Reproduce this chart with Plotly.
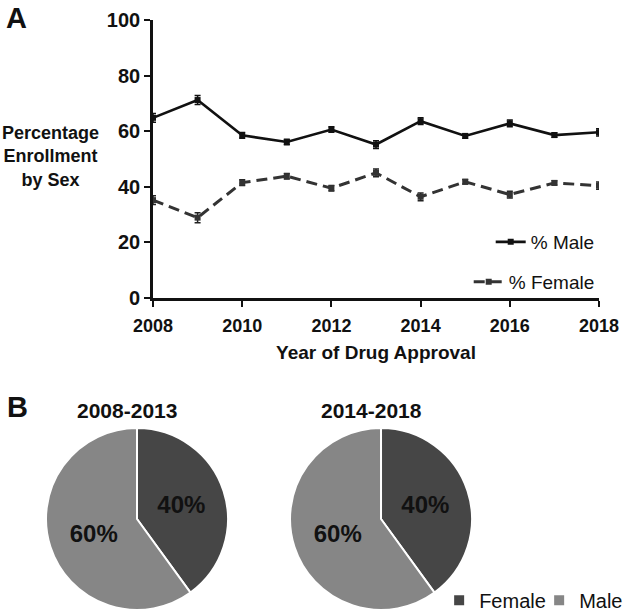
import plotly.graph_objects as go

years = [2008, 2009, 2010, 2011, 2012, 2013, 2014, 2015, 2016, 2017, 2018]
male_pct = [64.8, 71.2, 58.5, 56.1, 60.6, 55.2, 63.6, 58.3, 62.8, 58.6, 59.6]
male_err = [1.6, 1.6, 1.0, 1.0, 1.0, 1.4, 1.2, 0.8, 1.2, 0.8, 1.3]
female_pct = [35.2, 28.9, 41.5, 43.8, 39.5, 45.0, 36.4, 41.8, 37.2, 41.4, 40.4]
female_err = [1.6, 1.8, 1.0, 1.0, 1.0, 1.4, 1.4, 0.8, 1.2, 0.8, 1.3]

pie_labels = ["Female", "Male"]
pie_2008_2013 = [40, 60]
pie_2014_2018 = [40, 60]
pie_titles = ["2008-2013", "2014-2018"]

FONT = "Liberation Sans, Arial, sans-serif"

fig = go.Figure()
fig.add_trace(go.Scatter(
    x=years, y=male_pct, name="% Male", mode="lines+markers",
    line=dict(color="#111111", width=2.6),
    marker=dict(symbol="square", size=6, color="#111111"),
    error_y=dict(type="data", array=male_err, color="#111111", thickness=1.5, width=3),
    legend="legend", showlegend=True,
))
fig.add_trace(go.Scatter(
    x=years, y=female_pct, name="% Female", mode="lines+markers",
    line=dict(color="#333333", width=3, dash="11px,6px"),
    marker=dict(symbol="square", size=6, color="#333333"),
    error_y=dict(type="data", array=female_err, color="#222222", thickness=1.5, width=3),
    legend="legend3", showlegend=True,
))

pie_colors = ["#464646", "#868686"]
for vals, dom in [(pie_2008_2013, [0.0735, 0.3642]), (pie_2014_2018, [0.4633, 0.7540])]:
    fig.add_trace(go.Pie(
        labels=pie_labels, values=vals, sort=False, direction="clockwise", rotation=0,
        marker=dict(colors=pie_colors, line=dict(color="white", width=2)),
        texttemplate="%{percent:.0%}", textposition="inside", insidetextorientation="horizontal",
        textfont=dict(family=FONT, size=24, color="#111111", weight="bold"),
        domain=dict(x=dom, y=[0.0049, 0.3018]),
        legend="legend2", hoverinfo="label+percent",
    ))

fig.update_layout(
    width=626, height=613,
    showlegend=True,
    margin=dict(l=0, r=0, t=0, b=0, autoexpand=False),
    paper_bgcolor="white", plot_bgcolor="white",
    font=dict(family=FONT, color="#111111"),
    xaxis=dict(
        domain=[0.2444, 0.9569], range=[2008, 2018], automargin=False,
        tickvals=[2008, 2010, 2012, 2014, 2016, 2018],
        ticks="outside", ticklen=6, tickwidth=2, tickcolor="#111111",
        showline=True, linecolor="#111111", linewidth=2.5,
        showgrid=False, zeroline=False, ticklabelstandoff=4,
        tickfont=dict(size=18, weight="bold"),
        title=dict(text="Year of Drug Approval", font=dict(size=19, weight="bold"), standoff=11),
    ),
    yaxis=dict(
        domain=[0.5139, 0.9674], range=[0, 100], automargin=False,
        tickvals=[0, 20, 40, 60, 80, 100],
        ticks="outside", ticklen=6, tickwidth=2, tickcolor="#111111",
        showline=True, linecolor="#111111", linewidth=2.5,
        showgrid=False, zeroline=False,
        tickfont=dict(size=20, weight="bold"),
    ),
    legend=dict(
        x=0.958, xanchor="right", y=0.6052, yanchor="middle",
        font=dict(size=19, color="#111111"),
        bgcolor="rgba(0,0,0,0)", itemwidth=30,
    ),
    legend3=dict(
        x=0.958, xanchor="right", y=0.540, yanchor="middle",
        font=dict(size=19, color="#111111"),
        bgcolor="rgba(0,0,0,0)", itemwidth=30,
    ),
    legend2=dict(
        orientation="h", x=1.021, xanchor="right", y=0.021, yanchor="middle",
        font=dict(size=20, color="#111111"),
        bgcolor="rgba(0,0,0,0)", itemwidth=30, entrywidth=55,
    ),
    annotations=[
        dict(text="<b>A</b>", x=0.006, y=0.9706, xref="paper", yref="paper",
             xanchor="left", yanchor="middle", showarrow=False, font=dict(size=29)),
        dict(text="<b>B</b>", x=0.008, y=0.336, xref="paper", yref="paper",
             xanchor="left", yanchor="middle", showarrow=False, font=dict(size=29)),
        dict(text="<b>Percentage<br>Enrollment<br>by Sex</b>", x=0.08, y=0.744,
             xref="paper", yref="paper", xanchor="center", yanchor="middle",
             showarrow=False, font=dict(size=18), align="center"),
        dict(text="<b>" + pie_titles[0] + "</b>", x=0.203, y=0.331, xref="paper", yref="paper",
             xanchor="center", yanchor="middle", showarrow=False, font=dict(size=21)),
        dict(text="<b>" + pie_titles[1] + "</b>", x=0.594, y=0.331, xref="paper", yref="paper",
             xanchor="center", yanchor="middle", showarrow=False, font=dict(size=21)),
    ],
)

fig.write_html("out.html", config={"displayModeBar": False},
               post_script="document.body.style.margin='0';")
